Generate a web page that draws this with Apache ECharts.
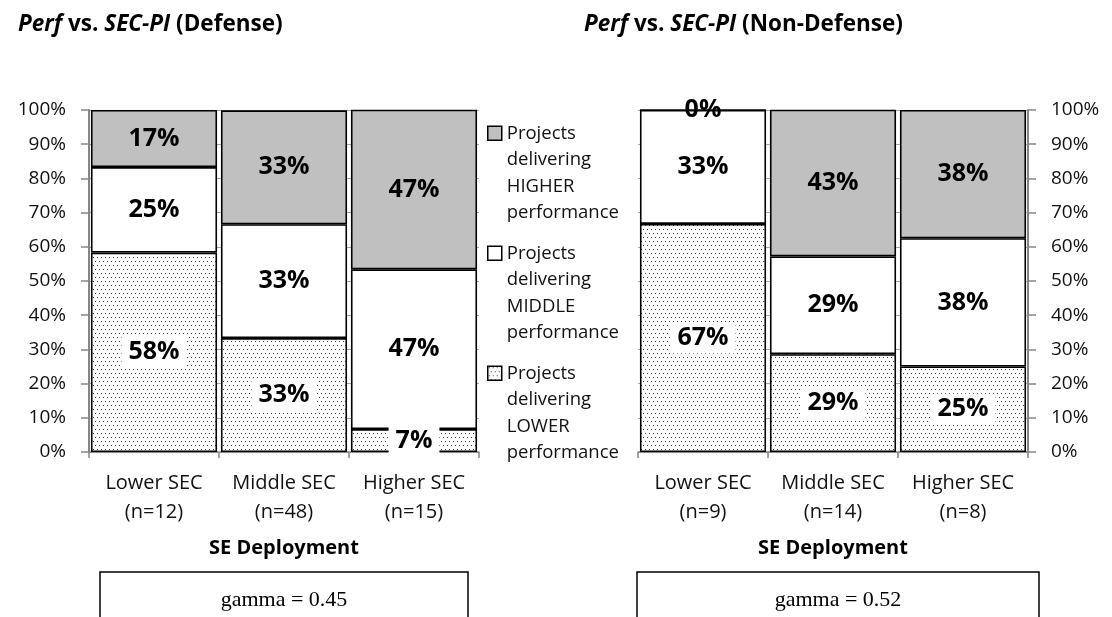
<!DOCTYPE html>
<html>
<head>
<meta charset="utf-8">
<script src="https://cdn.jsdelivr.net/npm/echarts@6/dist/echarts.min.js"></script>
<style>
  html, body { margin: 0; padding: 0; background: #fff; }
  #main { width: 1112px; height: 617px; }
</style>
</head>
<body>
<div id="main"></div>
<script>
// 分类和数据（百分比）
const catsDefense = ['Lower SEC\n(n=12)', 'Middle SEC\n(n=48)', 'Higher SEC\n(n=15)']
const catsNonDefense = ['Lower SEC\n(n=9)', 'Middle SEC\n(n=14)', 'Higher SEC\n(n=8)']
const seriesNames = [
  'Projects\ndelivering\nLOWER\nperformance',
  'Projects\ndelivering\nMIDDLE\nperformance',
  'Projects\ndelivering\nHIGHER\nperformance',
]
const lowerDefense = [58.3, 33.3, 6.7]
const middleDefense = [25.0, 33.3, 46.7]
const higherDefense = [16.7, 33.3, 46.7]
const lowerNonDefense = [66.7, 28.6, 25.0]
const middleNonDefense = [33.3, 28.6, 37.5]
const higherNonDefense = [0, 42.9, 37.5]
const yTicks = [0, 10, 20, 30, 40, 50, 60, 70, 80, 90, 100]
const gammaDefense = 'gamma = 0.45'
const gammaNonDefense = 'gamma = 0.52'

const FONT = '"Open Sans", sans-serif'

// 点状填充
const pat = document.createElement('canvas')
pat.width = 8
pat.height = 8
const pctx = pat.getContext('2d')
pctx.fillStyle = '#fff'
pctx.fillRect(0, 0, 8, 8)
pctx.fillStyle = '#3a3a3a'
;[[1, 1], [5, 1], [3, 5], [7, 5]].forEach(([x, y]) => pctx.fillRect(x, y, 1, 1))
const dotted = { image: pat, repeat: 'repeat' }

const fills = [dotted, '#ffffff', '#c0c0c0']
const labelFmt = (p) => Math.round(p.value) + '%'

function makeSeries(data, idx, gridIdx) {
  const label = {
    show: true,
    position: 'inside',
    formatter: labelFmt,
    fontFamily: FONT,
    fontWeight: 'bold',
    fontSize: 25,
    color: '#000',
  }
  if (idx === 0) {
    label.backgroundColor = '#fff'
    label.padding = [3, 7, 3, 7]
  }
  return {
    name: seriesNames[idx],
    type: 'bar',
    stack: 'g' + gridIdx,
    xAxisIndex: gridIdx,
    yAxisIndex: gridIdx,
    barCategoryGap: '3%',
    data: data,
    itemStyle: { color: fills[idx], borderColor: '#000', borderWidth: 1.6 },
    label: label,
    emphasis: { disabled: true },
  }
}

function xAxisFor(cats, gridIdx) {
  return {
    type: 'category',
    gridIndex: gridIdx,
    data: cats,
    axisLine: { lineStyle: { color: '#868686', width: 1.5 } },
    axisTick: { show: true, length: 6, lineStyle: { color: '#868686', width: 1.5 } },
    axisLabel: {
      interval: 0,
      hideOverlap: false,
      fontFamily: FONT,
      fontSize: 20,
      color: '#111',
      lineHeight: 29,
      margin: 17,
    },
    name: 'SE Deployment',
    nameLocation: 'middle',
    nameGap: 86,
    nameTextStyle: { fontFamily: FONT, fontSize: 20, fontWeight: 'bold', color: '#000' },
  }
}

function yAxisFor(gridIdx, pos) {
  return {
    type: 'value',
    gridIndex: gridIdx,
    position: pos,
    min: yTicks[0],
    max: yTicks[yTicks.length - 1],
    interval: yTicks[1] - yTicks[0],
    axisLine: { show: true, lineStyle: { color: '#868686', width: 2 } },
    axisTick: { show: true, length: 8, lineStyle: { color: '#868686', width: 1.5 } },
    axisLabel: { formatter: '{value}%', fontFamily: FONT, fontSize: 19, color: '#111', margin: 23 },
    splitLine: { show: true, lineStyle: { color: '#a6a6a6', width: 1.2 } },
  }
}

const titleRich = {
  bi: { fontFamily: FONT, fontSize: 22.5, fontWeight: 'bold', fontStyle: 'italic', color: '#000' },
}

// 图例：图标对齐第一行文字
function legendFor(name, top) {
  return {
    data: [name],
    orient: 'vertical',
    left: 487,
    top: top,
    padding: 0,
    icon: 'rect',
    itemWidth: 14,
    itemHeight: 14,
    selectedMode: false,
    formatter: (n) => '\n\n\n' + n,
    itemStyle: { borderColor: '#000', borderWidth: 1.5 },
    textStyle: {
      fontFamily: FONT,
      fontSize: 18.5,
      color: '#111',
      lineHeight: 26.5,
    },
  }
}

var myChart = echarts.init(document.getElementById('main'), null, { renderer: 'canvas' })

var option = {
  animation: false,
  backgroundColor: '#fff',
  title: [
    {
      text: '{bi|Perf} vs. {bi|SEC-PI} (Defense)',
      left: 18,
      top: 13,
      padding: 0,
      textStyle: { fontFamily: FONT, fontSize: 22.5, fontWeight: 'bold', color: '#000', rich: titleRich },
    },
    {
      text: '{bi|Perf} vs. {bi|SEC-PI} (Non-Defense)',
      left: 584,
      top: 13,
      padding: 0,
      textStyle: { fontFamily: FONT, fontSize: 22.5, fontWeight: 'bold', color: '#000', rich: titleRich },
    },
  ],
  legend: [
    legendFor(seriesNames[2], 40.5),
    legendFor(seriesNames[1], 160.5),
    legendFor(seriesNames[0], 280.5),
  ],
  grid: [
    { left: 89, top: 110, width: 390, height: 342 },
    { left: 638, top: 110, width: 390, height: 342 },
  ],
  xAxis: [xAxisFor(catsDefense, 0), xAxisFor(catsNonDefense, 1)],
  yAxis: [yAxisFor(0, 'left'), yAxisFor(1, 'right')],
  series: [
    makeSeries(lowerDefense, 0, 0),
    makeSeries(middleDefense, 1, 0),
    makeSeries(higherDefense, 2, 0),
    makeSeries(lowerNonDefense, 0, 1),
    makeSeries(middleNonDefense, 1, 1),
    makeSeries(higherNonDefense, 2, 1),
  ],
  graphic: [
    {
      type: 'rect',
      shape: { x: 100, y: 572, width: 368, height: 80 },
      style: { fill: '#fff', stroke: '#000', lineWidth: 1.5 },
    },
    {
      type: 'text',
      x: 284,
      y: 600,
      style: {
        text: gammaDefense,
        font: '22px "Liberation Serif", serif',
        fill: '#000',
        align: 'center',
        verticalAlign: 'middle',
      },
    },
    {
      type: 'rect',
      shape: { x: 637, y: 572, width: 402, height: 80 },
      style: { fill: '#fff', stroke: '#000', lineWidth: 1.5 },
    },
    {
      type: 'text',
      x: 838,
      y: 600,
      style: {
        text: gammaNonDefense,
        font: '22px "Liberation Serif", serif',
        fill: '#000',
        align: 'center',
        verticalAlign: 'middle',
      },
    },
  ],
}

myChart.setOption(option)
window.onresize = function () {
  myChart.resize()
}
</script>
</body>
</html>
